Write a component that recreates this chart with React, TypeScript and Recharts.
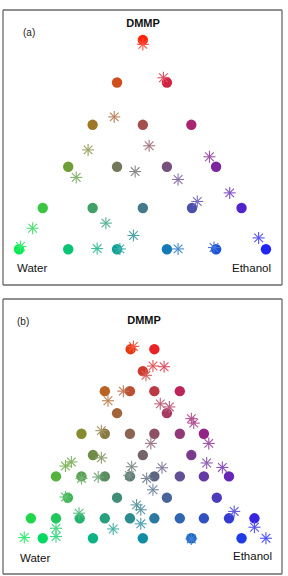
import React from 'react';
import { ScatterChart, Scatter, XAxis, YAxis } from 'recharts';

// ---- data (axis units 0..8) ----
const axisTicks = [1, 2, 3, 4, 5, 6, 7];

// Panel (a) – measured points (circles)
const aCircleX = [0.46, 1.87, 3.27, 4.70, 6.11, 7.54, 1.14, 2.57, 4.01, 5.42, 6.84, 1.87, 3.27, 4.70, 6.11, 2.57, 4.01, 5.40, 3.27, 4.70, 4.01];
const aCircleY = [1.04, 1.04, 1.04, 1.04, 1.04, 1.04, 2.24, 2.24, 2.24, 2.24, 2.24, 3.44, 3.44, 3.44, 3.44, 4.66, 4.66, 4.66, 5.89, 5.89, 7.13];
// Panel (a) – predicted points (stars)
const aStarX = [4.01, 4.60, 3.19, 4.19, 2.44, 5.92, 2.10, 3.79, 5.02, 6.50, 5.57, 0.85, 2.95, 3.74, 7.33, 0.50, 2.70, 3.35, 5.02, 6.05];
const aStarY = [7.00, 6.03, 4.89, 4.05, 3.93, 3.73, 3.13, 3.30, 3.07, 2.68, 2.43, 1.65, 1.80, 1.44, 1.37, 1.12, 1.06, 1.05, 1.05, 1.09];

// Panel (b) – measured points (circles)
const bCircleX = [
  1.14, 2.58, 4.01, 5.40, 6.84,
  0.80, 1.52, 2.20, 2.92, 3.64, 4.34, 5.07, 5.76, 6.48, 7.21,
  1.86, 3.27, 4.70, 6.13,
  1.52, 2.25, 2.92, 3.64, 4.34, 5.07, 5.76, 6.48,
  2.58, 4.01, 5.40,
  2.25, 2.92, 3.64, 4.34, 5.07, 5.76,
  3.27, 4.70,
  2.92, 3.64, 4.34, 5.07,
  4.01,
  3.66, 4.34,
];
const bCircleY = [
  1.04, 1.04, 1.04, 1.04, 1.04,
  1.62, 1.62, 1.62, 1.62, 1.62, 1.62, 1.62, 1.62, 1.62, 1.62,
  2.22, 2.22, 2.22, 2.22,
  2.84, 2.84, 2.84, 2.84, 2.84, 2.84, 2.84, 2.84,
  3.46, 3.46, 3.46,
  4.08, 4.08, 4.08, 4.08, 4.08, 4.08,
  4.68, 4.68,
  5.32, 5.32, 5.32, 5.32,
  5.90,
  6.54, 6.54,
];
// Panel (b) – predicted points (stars)
const bStarX = [3.74, 4.30, 4.62, 4.10, 3.45, 3.01, 4.51, 4.77, 5.40, 5.47, 2.82, 4.24, 5.90, 1.96, 1.79, 2.82, 3.69, 4.56, 5.84, 6.29, 3.62, 2.73, 2.25, 4.12, 4.30, 1.79, 3.83, 3.95, 6.63, 2.18, 3.95, 1.52, 3.16, 7.21, 0.61, 1.52, 7.54, 5.40];
const bStarY = [6.62, 6.05, 6.03, 5.78, 5.32, 5.04, 4.95, 4.86, 4.52, 4.39, 4.17, 3.80, 3.80, 3.26, 3.14, 3.38, 3.12, 3.09, 3.23, 3.10, 2.87, 2.82, 2.78, 2.78, 2.45, 2.24, 2.01, 1.87, 1.82, 1.77, 1.46, 1.33, 1.31, 1.36, 1.06, 1.09, 1.04, 1.02];

const cornerLabels = { top: 'DMMP', left: 'Water', right: 'Ethanol' };
const panelLabels = ['(a)', '(b)'];

// ---- helpers ----
type Pt = { x: number; y: number };
const zip = (xs: number[], ys: number[]): Pt[] => xs.map((x, i) => ({ x, y: ys[i] }));

const WATER = [0, 232, 70];
const ETH = [25, 30, 245];
const DMMP = [252, 28, 8];
const clamp = (v: number) => Math.max(0, Math.min(1, v));

function mixColor(x: number, y: number, lighten = 0): string {
  const d = clamp((y - 1.04) / 6.09);
  const left = 0.46 + d * 3.55;
  const right = 7.54 - d * 3.53;
  const t = right - left > 0.05 ? clamp((x - left) / (right - left)) : 0.5;
  const w = (1 - d) * (1 - t);
  const e = (1 - d) * t;
  const c = [0, 1, 2].map((i) => {
    let v = w * WATER[i] + e * ETH[i] + d * DMMP[i];
    v = 255 * Math.pow(v / 255, 0.9);
    v = v + (255 - v) * lighten;
    return Math.round(v);
  });
  return `rgb(${c[0]},${c[1]},${c[2]})`;
}

const CircleShape = (props: any) => {
  const { cx, cy, payload } = props;
  if (cx == null || cy == null) return null;
  return <circle cx={cx} cy={cy} r={5.2} fill={mixColor(payload.x, payload.y)} />;
};

const StarShape = (props: any) => {
  const { cx, cy, payload } = props;
  if (cx == null || cy == null) return null;
  const col = mixColor(payload.x, payload.y, 0.2);
  const L = 6;
  const D = L * 0.72;
  return (
    <g stroke={col} strokeWidth={1.1}>
      <line x1={cx - L} y1={cy} x2={cx + L} y2={cy} />
      <line x1={cx} y1={cy - L} x2={cx} y2={cy + L} />
      <line x1={cx - D} y1={cy - D} x2={cx + D} y2={cy + D} />
      <line x1={cx - D} y1={cy + D} x2={cx + D} y2={cy - D} />
    </g>
  );
};

const FRAME = '#6a6a6a';
const axisLineStyle = { stroke: FRAME, strokeWidth: 1.3 };

function Panel({ circles, stars, height, margin }: { circles: Pt[]; stars: Pt[]; height: number; margin: any }) {
  return (
    <ScatterChart width={288} height={height} margin={margin}>
      <XAxis xAxisId="b" type="number" dataKey="x" domain={[0, 8]} ticks={axisTicks} orientation="bottom" height={1} mirror tick={false} tickSize={3} stroke={FRAME} axisLine={axisLineStyle} allowDataOverflow />
      <XAxis xAxisId="t" type="number" dataKey="x" domain={[0, 8]} ticks={axisTicks} orientation="top" height={1} mirror tick={false} tickSize={3} stroke={FRAME} axisLine={axisLineStyle} allowDataOverflow />
      <YAxis yAxisId="l" type="number" dataKey="y" domain={[0, 8]} ticks={axisTicks} orientation="left" width={1} mirror tick={false} tickSize={3} stroke={FRAME} axisLine={axisLineStyle} allowDataOverflow />
      <YAxis yAxisId="r" type="number" dataKey="y" domain={[0, 8]} ticks={axisTicks} orientation="right" width={1} mirror tick={false} tickSize={3} stroke={FRAME} axisLine={axisLineStyle} allowDataOverflow />
      <Scatter xAxisId="b" yAxisId="l" data={circles} shape={CircleShape} isAnimationActive={false} />
      <Scatter xAxisId="b" yAxisId="l" data={stars} shape={StarShape} isAnimationActive={false} />
    </ScatterChart>
  );
}

export default function App() {
  const font = "'Liberation Sans', Arial, sans-serif";
  return (
    <div style={{ position: 'absolute', left: 0, top: 0, width: 288, height: 576, background: '#fff' }}>
      <div style={{ position: 'absolute', left: 0, top: 0 }}>
        <Panel circles={zip(aCircleX, aCircleY)} stars={zip(aStarX, aStarY)} height={290} margin={{ top: 10, left: 3, right: 6, bottom: 5 }} />
      </div>
      <div style={{ position: 'absolute', left: 0, top: 290 }}>
        <Panel circles={zip(bCircleX, bCircleY)} stars={zip(bStarX, bStarY)} height={286} margin={{ top: 9, left: 3, right: 6, bottom: 2 }} />
      </div>
      <svg width={288} height={576} style={{ position: 'absolute', left: 0, top: 0, pointerEvents: 'none' }} fontFamily={font}>
        <text x={143} y={27} textAnchor="middle" fontSize={11} fontWeight="bold" fill="#111">{cornerLabels.top}</text>
        <text x={23} y={36} fontSize={10} fill="#222">{panelLabels[0]}</text>
        <text x={17} y={272} fontSize={11.5} fill="#111">{cornerLabels.left}</text>
        <text x={232} y={272} fontSize={11.5} fill="#111">{cornerLabels.right}</text>

        <text x={144} y={324} textAnchor="middle" fontSize={11} fontWeight="bold" fill="#111">{cornerLabels.top}</text>
        <text x={17} y={325} fontSize={10} fill="#222">{panelLabels[1]}</text>
        <text x={20} y={562} fontSize={11.5} fill="#111">{cornerLabels.left}</text>
        <text x={233} y={560} fontSize={11.5} fill="#111">{cornerLabels.right}</text>
      </svg>
    </div>
  );
}
